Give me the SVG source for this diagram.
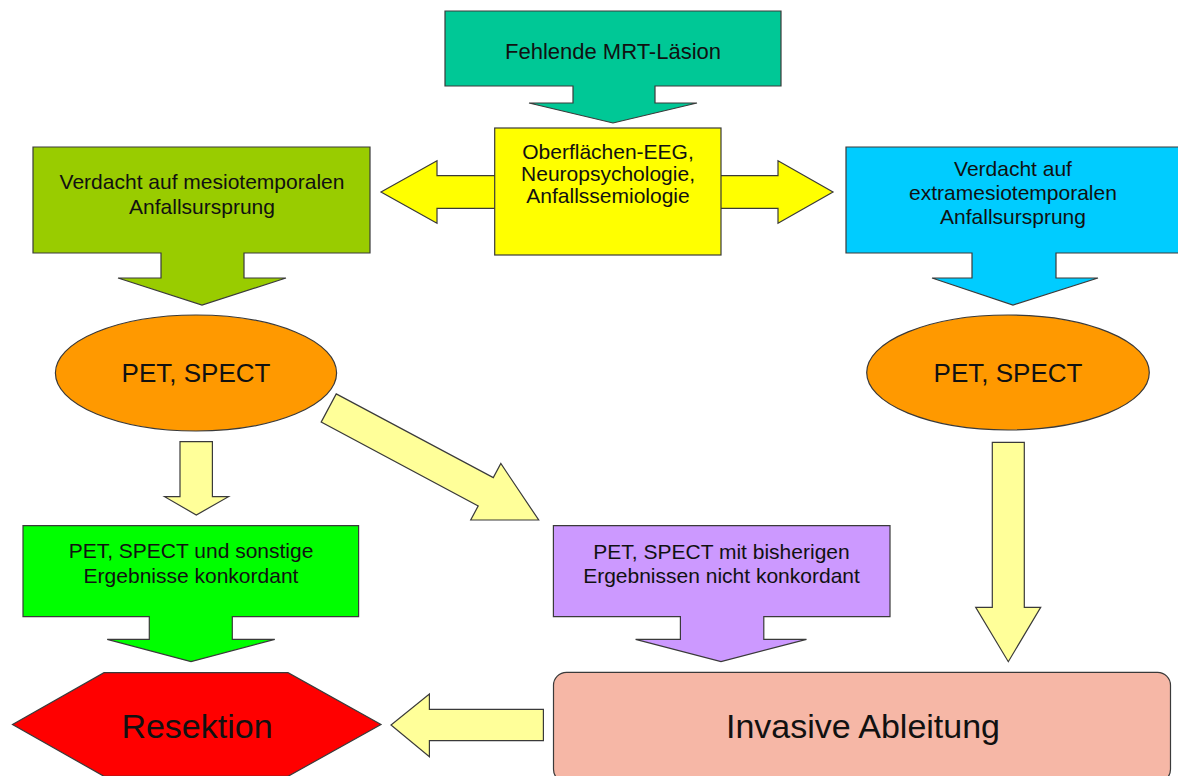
<svg xmlns="http://www.w3.org/2000/svg" width="1178" height="776" viewBox="0 0 1178 776">
<style>
.s{stroke:#3a3a3a;stroke-width:1.2;stroke-linejoin:miter}
.t{font-family:"Liberation Sans",Arial,sans-serif;fill:#111;text-anchor:middle}
.f21{font-size:21px}
.f22{font-size:22px}
.f26{font-size:26px}
.f34{font-size:34px}
.ly{fill:#FFFF99}
</style>
<rect width="1178" height="776" fill="#ffffff"/>
<g id="connectors">
<path class="s" fill="#FFFF00" d="M381,192 L437,160.7 L437,175.7 L778,175.7 L778,160.7 L833,192 L778,223.3 L778,208.3 L437,208.3 L437,223.3 Z"/>
<path class="s ly" d="M180,441.7 L212.4,441.7 L212.4,496.7 L228.5,496.7 L196.3,515 L164.6,496.7 L180,496.7 Z"/>
<path class="s ly" transform="translate(328.7,408) rotate(28.07)" d="M0,-16 L178,-16 L178,-32 L238,0 L178,32 L178,16 L0,16 Z"/>
<path class="s ly" d="M992.3,442.3 L1024.3,442.3 L1024.3,607.3 L1040.7,607.3 L1008.3,661.7 L975.7,607.3 L992.3,607.3 Z"/>
<path class="s ly" d="M543.4,709.3 L543.4,740.7 L429.4,740.7 L429.4,756.7 L391,725 L429.4,694 L429.4,709.3 Z"/>
</g>
<g id="n-mrt">
<path class="s" fill="#00C896" d="M445,11 L781,11 L781,86 L655,86 L655,103 L697,103 L613,123 L529,103 L573,103 L573,86 L445,86 Z"/>
<text class="t f22" x="613" y="59">Fehlende MRT-Läsion</text>
</g>
<g id="n-eeg">
<rect class="s" fill="#FFFF00" x="494.7" y="128" width="226.3" height="127"/>
<text class="t f21" x="608" y="159">Oberflächen-EEG,</text>
<text class="t f21" x="608" y="181">Neuropsychologie,</text>
<text class="t f21" x="608" y="203">Anfallssemiologie</text>
</g>
<g id="n-mesio">
<path class="s" fill="#99CC00" d="M33,147 L370,147 L370,253 L244,253 L244,278 L286,278 L202,305 L118,278 L161,278 L161,253 L33,253 Z"/>
<text class="t f21" x="202" y="189">Verdacht auf mesiotemporalen</text>
<text class="t f21" x="202" y="214">Anfallsursprung</text>
</g>
<g id="n-extra">
<path class="s" fill="#00CCFF" d="M846,147 L1180,147 L1180,253 L1056,253 L1056,278 L1098,278 L1013,305 L932,278 L972,278 L972,253 L846,253 Z"/>
<text class="t f21" x="1013" y="175.5">Verdacht auf</text>
<text class="t f21" x="1013" y="199.5">extramesiotemporalen</text>
<text class="t f21" x="1013" y="223.5">Anfallsursprung</text>
</g>
<g id="n-pet-left">
<ellipse class="s" fill="#FF9900" cx="196" cy="373" rx="140.6" ry="58"/>
<text class="t f26" x="196" y="382">PET, SPECT</text>
</g>
<g id="n-pet-right">
<ellipse class="s" fill="#FF9900" cx="1008" cy="372.5" rx="141.3" ry="57.5"/>
<text class="t f26" x="1008" y="382">PET, SPECT</text>
</g>
<g id="n-konkordant">
<path class="s" fill="#00FF00" d="M23,525.7 L358.6,525.7 L358.6,616.7 L232.3,616.7 L232.3,639.3 L274.8,639.3 L191,661.7 L107.2,639.3 L149.3,639.3 L149.3,616.7 L23,616.7 Z"/>
<text class="t f21" x="191" y="558">PET, SPECT und sonstige</text>
<text class="t f21" x="191" y="582.7">Ergebnisse konkordant</text>
</g>
<g id="n-nicht-konkordant">
<path class="s" fill="#CC99FF" d="M553.4,525.7 L890,525.7 L890,616.7 L763.8,616.7 L763.8,639.3 L806.5,639.3 L721,661.7 L635.6,639.3 L680.4,639.3 L680.4,616.7 L553.4,616.7 Z"/>
<text class="t f21" x="721.5" y="559">PET, SPECT mit bisherigen</text>
<text class="t f21" x="721.5" y="583">Ergebnissen nicht konkordant</text>
</g>
<g id="n-resektion">
<path class="s" fill="#FF0000" d="M12.5,724.5 L104,672.7 L288,672.7 L381,724.5 L288,776.3 L104,776.3 Z"/>
<text class="t f34" x="197" y="737.7">Resektion</text>
</g>
<g id="n-invasiv">
<rect class="s" fill="#F6B7A6" x="553.5" y="672.3" width="617" height="110" rx="13" ry="13"/>
<text class="t f34" x="863" y="738.3">Invasive Ableitung</text>
</g>
</svg>
